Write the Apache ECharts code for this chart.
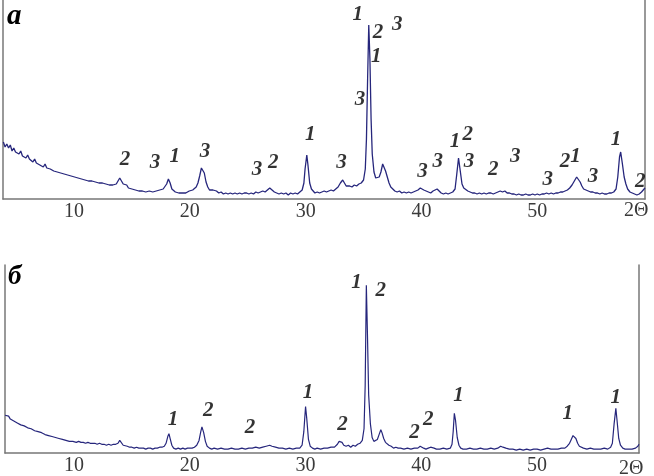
<!DOCTYPE html>
<html>
<head>
<meta charset="utf-8">
<script src="https://cdn.jsdelivr.net/npm/echarts@6/dist/echarts.min.js"></script>
<style>
  html, body { margin: 0; padding: 0; background: #fff; }
  #chart { width: 654px; height: 476px; }
</style>
</head>
<body>
<div id="chart"></div>
<script>
// x-ray patterns, intensity in arbitrary units
const patternA = [
  [3.9,57],[4.05,52],[4.2,55],[4.35,51],[4.5,54],[4.65,48],[4.8,51],[4.95,47],[5.1,49],[5.25,45],[5.4,48],[5.55,43],[5.7,45],[5.85,41],[6.0,44],[6.15,40],[6.3,42],[6.45,37],[6.6,40],[6.75,36],[6.9,38],[7.05,34],[7.2,36],[7.35,32],[7.5,35],[7.65,31],[7.8,33],[7.95,30],[8.1,32],[8.25,28],[8.4,30],[8.55,27],[8.7,29],[8.85,26],[9.0,28],[9.15,25],[9.3,27],[9.45,24],[9.6,26],[9.75,23],[9.9,25],[10.05,22],[10.2,24],[10.35,21],[10.5,23],[10.65,20],[10.8,22],[10.95,19],[11.1,21],[11.25,18],[11.4,20],[11.55,18],[11.7,19],[11.85,17],[12.0,19],[12.15,16],[12.3,18],[12.45,16],[12.6,17],[12.75,15],[12.9,17],[13.05,14],[13.2,16],[13.35,14],[13.5,15],[13.65,15],[13.8,18],[13.95,21],[14.1,19],[14.25,15],[14.4,13],[14.55,14],[14.7,11],[14.85,12],[15.0,10],[15.15,11],[15.3,9],[15.45,10],[15.6,8],[15.75,10],[15.9,8],[16.05,9],[16.2,7],[16.35,9],[16.5,8],[16.65,9],[16.8,7],[16.95,9],[17.1,8],[17.25,9],[17.4,9],[17.55,10],[17.7,10],[17.85,12],[18.0,15],[18.15,20],[18.3,16],[18.45,10],[18.6,8],[18.75,7],[18.9,8],[19.05,6],[19.2,7],[19.35,6],[19.5,8],[19.65,6],[19.8,7],[19.95,8],[20.1,7],[20.25,9],[20.4,10],[20.55,12],[20.7,16],[20.85,23],[21.0,31],[21.1,33],[21.25,26],[21.4,17],[21.55,12],[21.7,9],[21.85,8],[22.0,9],[22.15,7],[22.3,8],[22.5,6],[22.7,7],[22.9,5],[23.1,6],[23.3,5],[23.5,6],[23.7,5],[23.9,6],[24.1,5],[24.3,6],[24.5,5],[24.7,6],[24.9,6],[25.1,5],[25.3,6],[25.5,5],[25.7,7],[25.9,6],[26.1,7],[26.3,8],[26.5,7],[26.7,9],[26.9,11],[27.1,9],[27.3,7],[27.5,6],[27.7,5],[27.9,6],[28.1,5],[28.3,6],[28.5,4],[28.7,6],[28.9,5],[29.1,6],[29.3,5],[29.5,7],[29.7,9],[29.85,16],[29.95,30],[30.1,44],[30.2,34],[30.35,16],[30.5,10],[30.65,8],[30.8,6],[31.0,7],[31.2,6],[31.4,7],[31.6,8],[31.8,7],[32.0,8],[32.2,9],[32.4,8],[32.6,10],[32.8,12],[33.0,16],[33.2,19],[33.35,16],[33.5,13],[33.65,12],[33.8,13],[34.0,12],[34.2,14],[34.4,13],[34.6,15],[34.8,16],[35.0,19],[35.15,30],[35.25,60],[35.35,120],[35.45,174],[35.55,140],[35.65,80],[35.75,45],[35.9,27],[36.05,21],[36.2,20],[36.35,22],[36.5,27],[36.65,35],[36.75,37],[36.9,28],[37.05,22],[37.2,16],[37.35,12],[37.5,10],[37.7,8],[37.9,7],[38.1,8],[38.3,6],[38.5,7],[38.7,6],[38.9,7],[39.1,6],[39.3,7],[39.5,8],[39.7,9],[39.9,11],[40.05,11],[40.2,9],[40.4,8],[40.6,7],[40.8,6],[41.0,8],[41.15,9],[41.35,10],[41.5,8],[41.7,6],[41.9,5],[42.1,6],[42.3,5],[42.5,6],[42.7,7],[42.9,10],[43.05,25],[43.2,41],[43.35,28],[43.5,15],[43.65,11],[43.8,9],[44.0,8],[44.2,7],[44.4,6],[44.6,6],[44.8,5],[45.0,6],[45.2,5],[45.4,6],[45.6,5],[45.8,6],[46.0,6],[46.2,5],[46.4,6],[46.6,7],[46.8,8],[47.0,7],[47.2,8],[47.4,6],[47.6,6],[47.8,5],[48.0,5],[48.2,4],[48.4,5],[48.6,4],[48.8,4],[49.0,5],[49.2,4],[49.4,4],[49.6,5],[49.8,4],[50.0,5],[50.2,4],[50.4,5],[50.6,5],[50.8,6],[51.0,5],[51.2,6],[51.4,5],[51.6,6],[51.8,6],[52.0,7],[52.2,7],[52.4,8],[52.6,9],[52.8,11],[53.0,14],[53.2,18],[53.4,22],[53.55,21],[53.7,17],[53.85,13],[54.0,10],[54.2,9],[54.4,8],[54.6,7],[54.8,7],[55.0,6],[55.2,6],[55.4,5],[55.6,6],[55.8,5],[56.0,5],[56.2,6],[56.4,6],[56.6,7],[56.8,10],[56.95,22],[57.1,42],[57.2,47],[57.35,35],[57.5,22],[57.65,15],[57.8,10],[58.0,7],[58.2,6],[58.4,5],[58.6,4],[58.8,5],[59.0,7],[59.15,9],[59.3,11]
];

const patternB = [
  [4.05,39],[4.2,37],[4.35,38],[4.5,35],[4.65,36],[4.8,33],[4.95,34],[5.1,31],[5.25,32],[5.4,29],[5.55,30],[5.7,28],[5.85,28],[6.0,26],[6.15,27],[6.3,25],[6.45,25],[6.6,23],[6.75,24],[6.9,22],[7.05,22],[7.2,21],[7.35,21],[7.5,19],[7.65,20],[7.8,18],[7.95,19],[8.1,17],[8.25,17],[8.4,16],[8.55,17],[8.7,15],[8.85,15],[9.0,14],[9.15,14],[9.3,13],[9.45,14],[9.6,12],[9.75,13],[9.9,12],[10.05,12],[10.2,11],[10.4,12],[10.6,11],[10.8,11],[11.0,10],[11.2,11],[11.4,10],[11.6,10],[11.8,10],[12.0,9],[12.2,10],[12.4,9],[12.6,9],[12.8,8],[13.0,9],[13.2,8],[13.4,9],[13.6,9],[13.8,10],[13.95,13],[14.1,11],[14.25,8],[14.4,7],[14.6,7],[14.8,6],[15.0,6],[15.2,5],[15.4,6],[15.6,5],[15.8,5],[16.0,5],[16.2,4],[16.4,5],[16.6,5],[16.8,4],[17.0,5],[17.2,5],[17.4,6],[17.6,6],[17.8,7],[17.95,10],[18.1,17],[18.2,20],[18.3,15],[18.45,8],[18.6,5],[18.8,4],[19.0,5],[19.2,4],[19.4,5],[19.6,4],[19.8,5],[20.0,5],[20.2,5],[20.4,6],[20.6,8],[20.8,13],[20.95,22],[21.05,27],[21.2,21],[21.35,12],[21.5,7],[21.7,5],[21.9,4],[22.1,5],[22.4,4],[22.7,5],[23.0,4],[23.3,4],[23.6,5],[23.9,4],[24.2,4],[24.5,5],[24.8,4],[25.1,5],[25.4,5],[25.7,6],[26.0,5],[26.3,6],[26.6,7],[26.9,8],[27.1,7],[27.4,6],[27.7,5],[28.0,5],[28.3,4],[28.6,5],[28.9,4],[29.2,5],[29.5,5],[29.7,8],[29.85,22],[30.0,48],[30.1,36],[30.25,14],[30.4,7],[30.6,5],[30.8,4],[31.0,5],[31.3,4],[31.6,5],[31.9,5],[32.2,6],[32.5,6],[32.75,9],[32.9,12],[33.0,14],[33.15,11],[33.3,8],[33.5,7],[33.7,8],[33.9,6],[34.1,8],[34.3,7],[34.5,9],[34.7,10],[34.9,13],[35.05,25],[35.15,70],[35.25,173],[35.35,120],[35.45,60],[35.6,30],[35.75,16],[35.9,12],[36.05,11],[36.2,14],[36.35,19],[36.5,24],[36.6,21],[36.75,15],[36.9,11],[37.05,10],[37.2,8],[37.4,7],[37.6,5],[37.8,6],[38.0,5],[38.2,5],[38.5,4],[38.8,5],[39.1,4],[39.4,5],[39.7,5],[39.9,7],[40.05,6],[40.2,5],[40.4,4],[40.6,5],[40.8,6],[40.95,7],[41.1,5],[41.3,4],[41.6,4],[41.9,5],[42.2,4],[42.5,5],[42.65,9],[42.75,22],[42.85,41],[42.95,34],[43.1,16],[43.25,8],[43.4,5],[43.6,4],[43.9,4],[44.2,5],[44.5,4],[44.8,4],[45.1,5],[45.4,4],[45.7,4],[46.0,5],[46.3,4],[46.6,5],[46.85,7],[47.05,6],[47.3,5],[47.6,4],[47.9,4],[48.2,3],[48.5,4],[48.8,3],[49.1,4],[49.4,3],[49.7,4],[50.0,4],[50.3,3],[50.6,4],[50.9,5],[51.2,4],[51.5,4],[51.8,4],[52.1,5],[52.4,5],[52.6,7],[52.8,10],[52.95,14],[53.1,18],[53.2,19],[53.35,15],[53.5,10],[53.65,7],[53.8,5],[54.0,5],[54.3,4],[54.6,5],[54.9,4],[55.2,4],[55.5,4],[55.8,5],[56.1,4],[56.35,6],[56.5,10],[56.65,30],[56.8,46],[56.9,34],[57.05,15],[57.2,8],[57.4,5],[57.6,4],[57.9,4],[58.2,4],[58.5,5],[58.7,7],[58.8,9]
];

// phase marks: [2theta, height, phase number]
const marksA = [
  [14.4,39,'2'],[17.0,36,'3'],[18.7,42,'1'],[21.3,47,'3'],[25.8,29,'3'],[27.2,36,'2'],
  [30.4,64,'1'],[33.1,36,'3'],[34.5,184,'1'],[36.25,166,'2'],[37.9,174,'3'],[36.1,142,'1'],
  [34.7,99,'3'],[40.1,27,'3'],[41.4,37,'3'],[42.9,57,'1'],[44.0,64,'2'],[44.1,37,'3'],
  [46.2,29,'2'],[48.1,42,'3'],[50.9,19,'3'],[52.4,37,'2'],[53.3,42,'1'],[54.8,22,'3'],
  [56.8,59,'1'],[58.9,17,'2']
];
const marksB = [
  [18.55,34,'1'],[21.6,44,'2'],[25.2,26,'2'],[30.2,62,'1'],[33.2,29,'2'],[34.4,176,'1'],
  [36.5,168,'2'],[39.4,21,'2'],[40.6,34,'2'],[43.2,59,'1'],[52.65,41,'1'],[56.8,57,'1']
];
const tickValues = [10, 20, 30, 40, 50];

const lineColor = '#26267c';
const axisColor = '#777';
const serif = '"Liberation Serif", "DejaVu Serif", serif';

let myChart = echarts.init(document.getElementById('chart'));

function xAxisFor(grid, min, max) {
  return {
    type: 'value', gridIndex: grid, min: min, max: max,
    splitLine: { show: false },
    axisLine: { lineStyle: { color: axisColor, width: 1.5 } },
    axisTick: { show: false },
    axisLabel: {
      customValues: tickValues,
      color: '#3a3a3a', fontFamily: serif, fontSize: 20, margin: 3
    }
  };
}
function yAxisFor(grid, max, pos) {
  return {
    type: 'value', gridIndex: grid, min: 0, max: max, position: pos,
    splitLine: { show: false },
    axisLine: { show: true, onZero: false, lineStyle: { color: axisColor, width: 1.5 } },
    axisTick: { show: false },
    axisLabel: { show: false }
  };
}
function markSeries(idx, data) {
  return {
    type: 'scatter', xAxisIndex: idx, yAxisIndex: idx * 2,
    data: data, symbolSize: 0, silent: true,
    label: {
      show: true, position: 'inside',
      formatter: (p) => p.value[2],
      color: '#000', fontFamily: serif, fontSize: 21,
      fontWeight: 'bold', fontStyle: 'italic'
    }
  };
}

const option = {
  animation: false,
  grid: [
    { left: 3, top: 0, width: 642, height: 199 },
    { left: 5, top: 265, width: 634, height: 194 }
  ],
  xAxis: [xAxisFor(0, 3.87, 59.3), xAxisFor(1, 4.04, 58.8)],
  yAxis: [
    yAxisFor(0, 199, 'left'), yAxisFor(0, 199, 'right'),
    yAxisFor(1, 194, 'left'), yAxisFor(1, 194, 'right')
  ],
  graphic: [
    { type: 'text', left: 7, top: 2, style: { text: 'а', fill: '#000', font: 'italic bold 29px ' + serif } },
    { type: 'text', left: 8, top: 264, style: { text: 'б', fill: '#000', font: 'italic bold 27px ' + serif } },
    { type: 'text', left: 624, top: 201, style: { text: '2Θ', fill: '#3a3a3a', font: '20px ' + serif } },
    { type: 'text', left: 619, top: 459, style: { text: '2Θ', fill: '#3a3a3a', font: '20px ' + serif } }
  ],
  series: [
    {
      type: 'line', xAxisIndex: 0, yAxisIndex: 0, data: patternA,
      showSymbol: false, silent: true, sampling: null,
      lineStyle: { color: lineColor, width: 1.3 }
    },
    {
      type: 'line', xAxisIndex: 1, yAxisIndex: 2, data: patternB,
      showSymbol: false, silent: true,
      lineStyle: { color: lineColor, width: 1.2 }
    },
    markSeries(0, marksA),
    markSeries(1, marksB)
  ]
};
myChart.setOption(option);
</script>
</body>
</html>
